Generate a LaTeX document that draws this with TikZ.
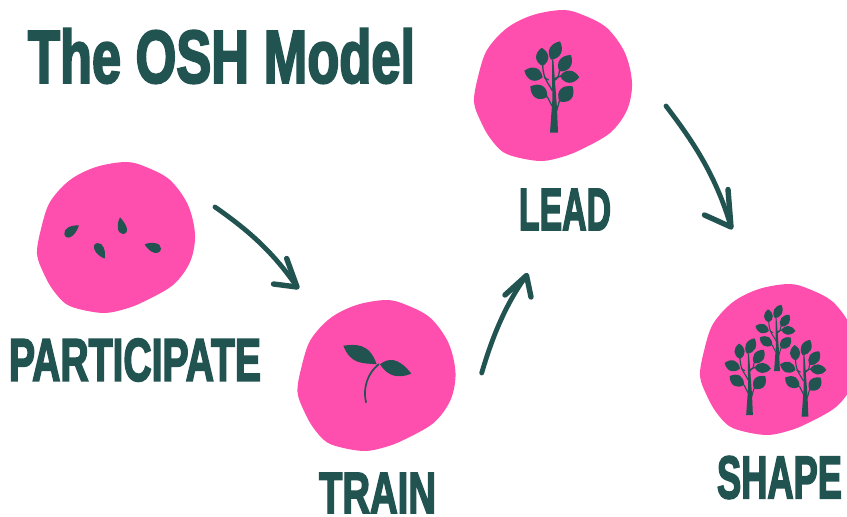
\documentclass[tikz,border=0pt]{standalone}
\usepackage{fontspec}
\usepackage{graphicx}
\setmainfont{Liberation Sans}[BoldFeatures={FakeBold=3.3}]
\definecolor{oshteal}{HTML}{215351}
\definecolor{oshpink}{HTML}{FF4FAE}
\tikzset{
  blobfill/.style={fill=oshpink},
  inkfill/.style={fill=oshteal},
  titlelabel/.style={inner sep=0pt,outer sep=0pt,text=oshteal,font=\bfseries},
  arrowline/.style={draw=oshteal,line width=4.8pt,line cap=round,line join=round},
  arrowbarb/.style={draw=oshteal,line width=5.4pt,line cap=round,line join=round}
}
\newcommand{\oshblob}[2]{%
  \fill[blobfill,shift={(#1,#2)}] plot[smooth cycle,tension=.55] coordinates {
    (93,10)(63,15)(37,28)(17,50)(8,77)(4,102)(11,122)(20,138)(33,152)(50,158)(72,161)(92,157)(110,150)(140,133)(157,110)(162,83)(155,53)(137,28)(113,15)};
}
\newcommand{\oshtree}[3]{%
  \begin{scope}[shift={(#1,#2)},scale=#3/3,shift={(-252,-398)}]
    \fill[inkfill] (240,398) -- (264,398) -- (261,325) -- (250,178) -- (246,178) -- (247,300) -- cycle;
    \draw[oshteal,line width=#3*1.3pt] (247,272) .. controls (238,252) and (220,240) .. (218,197);
    \draw[oshteal,line width=#3*1.3pt] (252,242) .. controls (262,236) and (268,228) .. (268,212);
    \draw[oshteal,line width=#3*1.3pt] (253,236) -- (272,228);
    \draw[oshteal,line width=#3*1.3pt] (222,232) -- (236,240);
    \draw[oshteal,line width=#3*1.3pt] (246,318) -- (232,290);
    \draw[oshteal,line width=#3*1.3pt] (260,332) -- (268,303);
    \foreach \bx/\by/\tx/\ty/\w in {
      218/198/215/143/34, 243/179/270/124/34, 268/214/303/165/35,
      270/228/328/232/34, 218/232/163/212/36, 232/291/181/259/38, 268/304/308/259/40}{
      \pgfmathsetmacro{\dx}{\tx-\bx}
      \pgfmathsetmacro{\dy}{\ty-\by}
      \pgfmathsetmacro{\nx}{-\dy/veclen(\dx,\dy)*\w*.72}
      \pgfmathsetmacro{\ny}{\dx/veclen(\dx,\dy)*\w*.72}
      \fill[inkfill] (\bx,\by)
        .. controls ({\bx+.25*\dx+\nx},{\by+.25*\dy+\ny}) and ({\bx+.7*\dx+\nx},{\by+.7*\dy+\ny}) .. (\tx,\ty)
        .. controls ({\bx+.7*\dx-\nx},{\by+.7*\dy-\ny}) and ({\bx+.25*\dx-\nx},{\by+.25*\dy-\ny}) .. cycle;
    }
  \end{scope}
}
\begin{document}
\begin{tikzpicture}[x=1pt,y=-1pt]
\useasboundingbox (0,0) rectangle (847,517);
\clip (0,0) rectangle (847,517);
\fill[white] (0,0) rectangle (847,517);

% blobs
\oshblob{33}{152}
\oshblob{293.5}{290}
\oshblob{470}{0}
\oshblob{696}{274}

% seeds
\begin{scope}[shift={(30,155)},scale=1/3]
  \fill[inkfill] (147,211) .. controls (122,210) and (100,220) .. (103,238) .. controls (108,256) and (134,250) .. cycle;
  \fill[inkfill] (270,187) .. controls (260,205) and (260,236) .. (278,237) .. controls (300,236) and (292,210) .. cycle;
  \fill[inkfill] (224,311) .. controls (228,288) and (220,262) .. (202,264) .. controls (182,268) and (192,298) .. cycle;
  \fill[inkfill] (344,268) .. controls (362,260) and (394,262) .. (393,281) .. controls (390,302) and (360,297) .. cycle;
\end{scope}

% sprout
\begin{scope}[shift={(290,295)},scale=1/3]
  \fill[inkfill] (160,152) .. controls (195,148) and (238,142) .. (260,208) .. controls (215,204) and (182,208) .. cycle;
  \fill[inkfill] (270,208) .. controls (295,188) and (325,186) .. (364,236) .. controls (325,252) and (292,244) .. cycle;
  \draw[oshteal,line width=1.7pt,line cap=round] (228,322) .. controls (218,280) and (232,235) .. (266,208);
\end{scope}

% trees
\oshtree{554}{132.7}{1}
\oshtree{777}{371}{.725}
\oshtree{749.5}{415}{.84}
\oshtree{805}{416.5}{.84}

% labels
\node[titlelabel] (title) at (221.5,56) {\resizebox{387pt}{54pt}{The OSH Model}};
\node[titlelabel] (participate) at (135,360) {\resizebox{252pt}{42pt}{PARTICIPATE}};
\node[titlelabel] (train) at (377.5,493) {\resizebox{117pt}{40pt}{TRAIN}};
\node[titlelabel] (lead) at (565,209.5) {\resizebox{92pt}{41pt}{LEAD}};
\node[titlelabel] (shape) at (779.5,477.5) {\resizebox{125pt}{42pt}{SHAPE}};

% arrows
\coordinate (a1s) at (215,207);
\coordinate (a1e) at (297,287);
\coordinate (a1l) at (286.7,258.5);
\coordinate (a1r) at (273.5,284);
\draw[arrowline] (a1s) .. controls (245,228) and (272,250) .. (a1e);
\draw[arrowbarb] (a1l) -- (a1e) -- (a1r);

\coordinate (a2s) at (481.7,373);
\coordinate (a2e) at (526.5,275.5);
\coordinate (a2l) at (505,295);
\coordinate (a2r) at (531,297);
\draw[arrowline] (a2s) .. controls (492,338) and (505,305) .. (a2e);
\draw[arrowbarb] (a2l) -- (a2e) -- (a2r);

\coordinate (a3s) at (666,106);
\coordinate (a3e) at (731,227);
\coordinate (a3l) at (728,189.5);
\coordinate (a3r) at (704.5,215);
\draw[arrowline] (a3s) .. controls (692,140) and (716,175) .. (a3e);
\draw[arrowbarb] (a3l) -- (a3e) -- (a3r);
\end{tikzpicture}
\end{document}
